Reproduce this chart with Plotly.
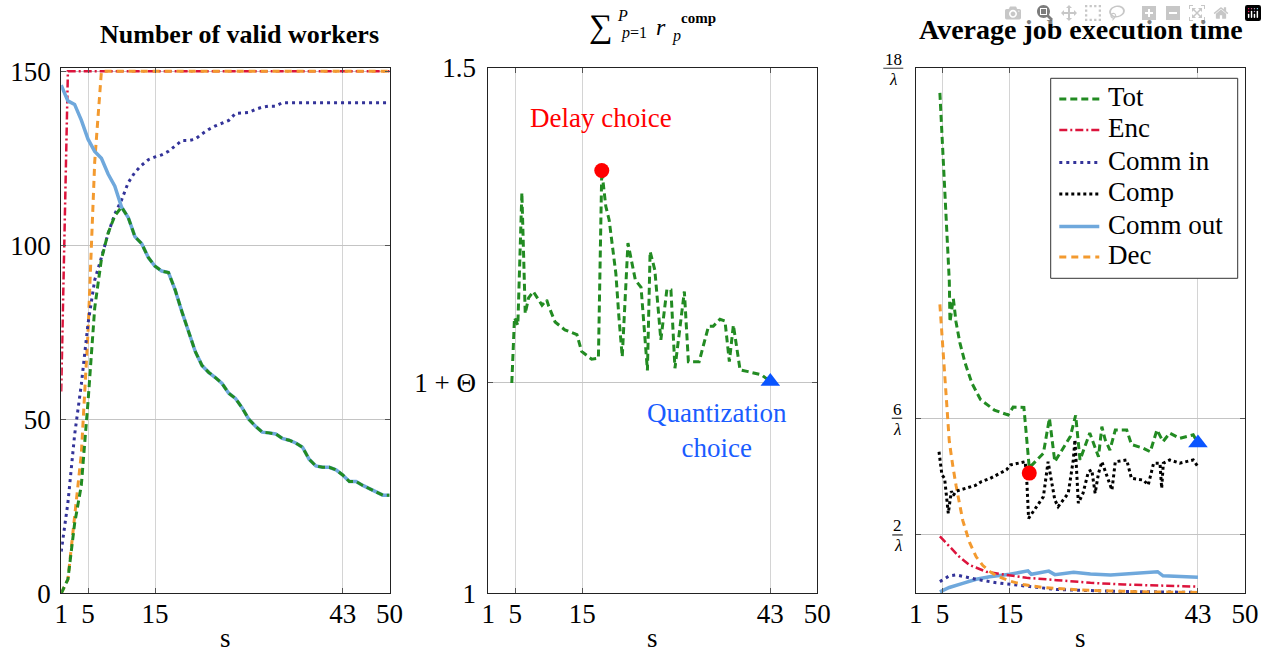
import plotly.graph_objects as go

# ---------------- data ----------------
# Left panel: number of valid workers vs s
s_left = list(range(1, 51))
left_tot = [0, 4, 20, 31, 55, 82, 96, 103.5, 108.5, 111,
            108, 102.5, 100.5, 96.5, 94, 92.6, 92.2, 87.2, 81, 75.5,
            69.5, 65.5, 63.5, 62, 60.3, 57.5, 56, 53.3, 50, 48,
            46.3, 46.1, 45.8, 44.5, 44, 43.2, 42, 38.5, 36.6, 36.2,
            36.2, 35.5, 34, 32.1, 32.1, 31, 30, 29, 28.2, 28.2]
left_comm_out = [146, 141.5, 140.5, 136, 130.5, 127, 125, 120.5, 117, 111,
                 108, 102.5, 100.5, 96.5, 94, 92.6, 92.2, 87.2, 81, 75.5,
                 69.5, 65.5, 63.5, 62, 60.3, 57.5, 56, 53.3, 50, 48,
                 46.3, 46.1, 45.8, 44.5, 44, 43.2, 42, 38.5, 36.6, 36.2,
                 36.2, 35.5, 34, 32.1, 32.1, 31, 30, 29, 28.2, 28.2]
left_comm_in = [12, 26, 45.5, 60, 77.5, 90, 96.5, 103.4, 109, 113,
                118, 121, 123, 124.6, 125.4, 126, 127, 128.5, 130.1, 130.1,
                130.5, 132, 133.3, 134.3, 135.2, 135.9, 137.9, 138.1, 138.2, 139.1,
                139.7, 140, 140, 141, 141, 141, 141, 141, 141, 141,
                141, 141, 141, 141, 141, 141, 141, 141, 141, 141]
left_enc = [58, 150, 150, 150, 150, 150, 150, 150, 150, 150,
            150, 150, 150, 150, 150, 150, 150, 150, 150, 150,
            150, 150, 150, 150, 150, 150, 150, 150, 150, 150,
            150, 150, 150, 150, 150, 150, 150, 150, 150, 150,
            150, 150, 150, 150, 150, 150, 150, 150, 150, 150]
left_dec = [0, 4, 22, 40, 75, 124, 150, 150, 150, 150,
            150, 150, 150, 150, 150, 150, 150, 150, 150, 150,
            150, 150, 150, 150, 150, 150, 150, 150, 150, 150,
            150, 150, 150, 150, 150, 150, 150, 150, 150, 150,
            150, 150, 150, 150, 150, 150, 150, 150, 150, 150]

# Middle panel: sum of r_p^comp (Theta = 0.2)
mid_s = [4.5, 4.9, 5.4, 6.0, 6.5, 7.0, 7.7, 9.0, 9.7, 10.0, 10.95, 12.4, 14.2, 14.9,
         16.4, 17.4, 17.9, 18.5, 19.0, 19.5, 20.0, 20.45, 20.95, 21.8, 22.9, 23.75,
         24.7, 25.1, 25.8, 26.7, 27.6, 28.2, 28.8, 30.2, 30.8, 32.4, 33.8, 34.5,
         35.5, 36.25, 36.9, 37.5, 38.5, 39.7, 41.7, 43.0]
mid_r = [1.200, 1.262, 1.255, 1.381, 1.266, 1.281, 1.287, 1.274, 1.279, 1.273, 1.258,
         1.2505, 1.246, 1.230, 1.2226, 1.2235, 1.402, 1.368, 1.355, 1.327, 1.304,
         1.263, 1.225, 1.333, 1.298, 1.291, 1.212, 1.325, 1.3075, 1.241, 1.289,
         1.2885, 1.214, 1.287, 1.2203, 1.2203, 1.254, 1.254, 1.2606, 1.259, 1.2203,
         1.255, 1.2124, 1.2108, 1.2077, 1.2013]
theta_tick = 1.2

# Right panel: average job execution time (units of 1/lambda)
tot_s = [4.6, 6.0, 6.1, 6.6, 7.0, 7.56, 8.34, 9.36, 10.64, 12.7, 14.75, 15.5, 17.1,
         17.9, 20.0, 20.9, 21.7, 24.0, 24.8, 25.45, 26.9, 28.2, 28.7, 29.2, 29.9,
         30.7, 32.4, 33.1, 34.9, 35.9, 36.9, 37.8, 38.8, 40.3, 42.3, 43.0]
tot_v = [17.15, 10.7, 9.3, 10.1, 9.3, 8.6, 7.9, 7.2, 6.64, 6.28, 6.11, 6.38, 6.37,
         4.3, 4.8, 6.0, 4.51, 5.37, 6.1, 4.57, 5.49, 4.68, 5.71, 5.26, 4.91,
         5.6, 5.6, 5.1, 4.97, 4.85, 5.6, 5.2, 5.49, 5.31, 5.43, 5.15]
comp_s = [4.47, 4.9, 5.3, 5.85, 6.3, 6.6, 7.0, 8.5, 9.9, 10.8, 12.1, 14.5, 15.1,
          17.3, 17.55, 17.8, 19.0, 20.0, 20.7, 21.7, 22.2, 23.7, 24.45, 24.7, 25.2,
          25.9, 26.7, 27.2, 27.7, 28.2, 28.7, 29.2, 30.2, 30.7, 32.4, 33.1, 34.9,
          35.6, 36.4, 37.35, 37.6, 37.85, 38.8, 40.3, 42.3, 43.0]
comp_v = [4.85, 4.06, 3.94, 2.74, 3.5, 3.35, 3.5, 3.6, 3.7, 3.83, 3.94, 4.23, 4.4,
          4.51, 3.77, 2.57, 2.97, 3.31, 4.51, 3.2, 2.97, 3.43, 4.57, 5.26, 3.09,
          3.43, 4.17, 4.23, 3.43, 4.11, 4.51, 4.17, 3.54, 4.51, 4.57, 3.94, 3.88,
          3.71, 4.46, 4.46, 3.6, 4.46, 4.57, 4.46, 4.57, 4.34]
enc_s = [4.6, 6.0, 7.5, 9.0, 11.5, 14.5, 17.5, 22.0, 27.0, 32.0, 37.0, 43.0]
enc_v = [1.95, 1.6, 1.25, 0.97, 0.74, 0.63, 0.53, 0.45, 0.36, 0.30, 0.26, 0.23]
commin_s = [4.6, 6.0, 7.0, 8.0, 10.0, 13.0, 17.0, 22.0, 30.0, 43.0]
commin_v = [0.4, 0.6, 0.63, 0.58, 0.48, 0.36, 0.25, 0.13, 0.07, 0.03]
commout_s = [4.6, 6.0, 8.0, 10.0, 12.0, 15.0, 17.7, 18.2, 20.8, 21.7, 24.5, 27.0,
             30.0, 34.0, 37.0, 37.8, 40.0, 43.0]
commout_v = [0.05, 0.2, 0.34, 0.48, 0.57, 0.65, 0.77, 0.65, 0.76, 0.64, 0.72, 0.66,
             0.63, 0.69, 0.74, 0.6, 0.57, 0.55]
dec_s = [4.6, 5.0, 5.5, 6.0, 6.5, 7.0, 8.0, 9.0, 10.0, 11.0, 12.0, 13.0, 15.0, 17.0,
         20.0, 25.0, 30.0, 35.0, 43.0]
dec_v = [9.9, 8.6, 6.9, 5.2, 4.4, 3.7, 2.5, 1.75, 1.25, 0.95, 0.75, 0.6, 0.42, 0.3,
         0.2, 0.12, 0.08, 0.05, 0.03]

delay_s, delay_mid, delay_right = 17.9, 1.402, 4.12
quant_s, quant_mid, quant_right = 43.0, 1.2013, 5.15

x_ticks = [1, 5, 15, 43, 50]
legend_names = ["Tot", "Enc", "Comm in", "Comp", "Comm out", "Dec"]

# ---------------- styles ----------------
FONT = "Liberation Serif"
FS = 27
sty = {
    "Tot": dict(color="#228b22", width=3, dash="7px,4px"),
    "Enc": dict(color="#dc143c", width=2.5, dash="8px,3px,2px,3px"),
    "Comm in": dict(color="#333399", width=3, dash="3px,4px"),
    "Comp": dict(color="#000000", width=3, dash="3px,3px"),
    "Comm out": dict(color="#6fa8dc", width=3.5),
    "Dec": dict(color="#f39a2f", width=3, dash="7px,5px"),
}

W, H = 1267, 655
def px(x):
    return x / W
def py(y):
    return 1 - y / H

fig = go.Figure()

def add(name, x, y, xa, ya):
    fig.add_trace(go.Scatter(x=x, y=y, mode="lines", name=name, line=sty[name],
                             xaxis=xa, yaxis=ya, showlegend=False, hoverinfo="skip"))

# Left
add("Enc", s_left, left_enc, "x", "y")
add("Dec", s_left, left_dec, "x", "y")
add("Comm in", s_left, left_comm_in, "x", "y")
add("Comm out", s_left, left_comm_out, "x", "y")
add("Tot", s_left, left_tot, "x", "y")

# Middle
fig.add_trace(go.Scatter(x=mid_s, y=mid_r, mode="lines", line=sty["Tot"], xaxis="x2", yaxis="y2",
                         showlegend=False, hoverinfo="skip"))
fig.add_trace(go.Scatter(x=[delay_s], y=[delay_mid], mode="markers", xaxis="x2", yaxis="y2",
                         marker=dict(color="#ff0000", size=15), showlegend=False))
fig.add_trace(go.Scatter(x=[quant_s], y=[quant_mid], mode="markers", xaxis="x2", yaxis="y2",
                         marker=dict(color="#0a55ff", size=17, symbol="triangle-up"), showlegend=False))

# Right
add("Comm out", commout_s, commout_v, "x3", "y3")
add("Enc", enc_s, enc_v, "x3", "y3")
add("Comm in", commin_s, commin_v, "x3", "y3")
add("Dec", dec_s, dec_v, "x3", "y3")
add("Comp", comp_s, comp_v, "x3", "y3")
add("Tot", tot_s, tot_v, "x3", "y3")
fig.add_trace(go.Scatter(x=[delay_s], y=[delay_right], mode="markers", xaxis="x3", yaxis="y3",
                         marker=dict(color="#ff0000", size=15), showlegend=False))
fig.add_trace(go.Scatter(x=[quant_s], y=[quant_right], mode="markers", xaxis="x3", yaxis="y3",
                         marker=dict(color="#0a55ff", size=17, symbol="triangle-up"), showlegend=False))

ydom = [py(593.3), py(67.5)]
common_x = dict(range=[1, 50], tickvals=x_ticks, ticktext=[str(v) for v in x_ticks],
                showline=True, mirror="ticks", linecolor="#222", linewidth=1,
                ticks="inside", ticklen=5, tickcolor="#555", showgrid=True, gridcolor="#d4d4d4",
                gridwidth=1, zeroline=False, tickfont=dict(family=FONT, size=FS, color="black"),
                ticklabelstandoff=-4)
common_y = dict(showline=True, mirror="ticks", linecolor="#222", linewidth=1,
                ticks="inside", ticklen=5, tickcolor="#555", showgrid=True, gridcolor="#c4c4c4",
                gridwidth=1, zeroline=False, tickfont=dict(family=FONT, size=FS, color="black"))

fig.update_layout(
    width=W, height=H, margin=dict(l=0, r=0, t=0, b=0, autoexpand=False),
    paper_bgcolor="white", plot_bgcolor="white",
    font=dict(family=FONT, color="black"),
    xaxis=dict(domain=[px(61.2), px(389.6)], anchor="y", **common_x),
    yaxis=dict(domain=ydom, anchor="x", range=[0, 151.1], tickvals=[0, 50, 100, 150],
               ticklabelstandoff=4, **common_y),
    xaxis2=dict(domain=[px(488.3), px(817.3)], anchor="y2", **common_x),
    yaxis2=dict(domain=ydom, anchor="x2", range=[1, 1.5], tickvals=[1, theta_tick, 1.5],
                ticktext=["1", "1 + Θ", "1.5"], ticklabelstandoff=6, **common_y),
    xaxis3=dict(domain=[px(915.7), px(1245)], anchor="y3", **common_x),
    yaxis3=dict(domain=ydom, anchor="x3", range=[0, 18.02], tickvals=[2, 6, 18],
                showticklabels=False, **{k: v for k, v in common_y.items() if k != "tickfont"}),
    showlegend=False,
)

ann = []
shapes = []
def text(x, y, t, size, color="black", xanchor="center"):
    ann.append(dict(x=px(x), y=py(y), xref="paper", yref="paper", text=t, showarrow=False,
                    xanchor=xanchor, yanchor="middle",
                    font=dict(family=FONT, size=size, color=color)))

# titles
text(239, 35, "<b>Number of valid workers</b>", 26)
text(1080.5, 30, "<b>Average job execution time</b>", 28)
# middle math title
text(600.8, 27, "∑", 33)
text(622.5, 15, "<i>P</i>", 16)
text(634, 33, "<i>p</i>=1", 16)
text(661, 27, "<i>r</i>", 24)
text(676, 36, "<i>p</i>", 16)
text(698, 18, "<b>comp</b>", 15)
# x labels
for cx in [225.4, 652.8, 1080.4]:
    text(cx, 638, "s", FS)
# annotations middle
text(601, 118, "Delay choice", FS, color="#ff0000")
text(716.5, 430, "Quantization<br>choice", FS, color="#1a5cff")

# fraction tick labels on right panel
fracs = [(2, "2", 897.5, 10.5), (6, "6", 897, 10.5), (18, "18", 893.3, 20)]
for val, num, cx, wbar in fracs:
    ann.append(dict(x=px(cx), y=val, xref="paper", yref="y3", text=num, showarrow=False,
                    xanchor="center", yanchor="middle", yshift=9,
                    font=dict(family=FONT, size=17, color="black")))
    ann.append(dict(x=px(cx), y=val, xref="paper", yref="y3", text="<i>λ</i>", showarrow=False,
                    xanchor="center", yanchor="middle", yshift=-11,
                    font=dict(family=FONT, size=17, color="black")))
    shapes.append(dict(type="line", xref="paper", yref="y3", x0=px(cx - wbar / 2), x1=px(cx + wbar / 2),
                       y0=val, y1=val, line=dict(color="black", width=1)))

# legend box (drawn manually to match spacing)
shapes.append(dict(type="rect", xref="paper", yref="paper", x0=px(1050.7), x1=px(1237.7),
                   y0=py(278.3), y1=py(78.3), line=dict(color="#333", width=1),
                   fillcolor="white", layer="above"))
leg_y = [99, 130, 162.5, 194, 226.5, 257]
for name, ly in zip(legend_names, leg_y):
    shapes.append(dict(type="line", xref="paper", yref="paper", x0=px(1059.3), x1=px(1099.3),
                       y0=py(ly), y1=py(ly), line=sty[name], layer="above"))
    text(1105.5, ly - 2, name, FS, xanchor="left")

fig.update_layout(annotations=ann, shapes=shapes)
fig.write_html("out.html", post_script="document.body.style.margin='0';")
